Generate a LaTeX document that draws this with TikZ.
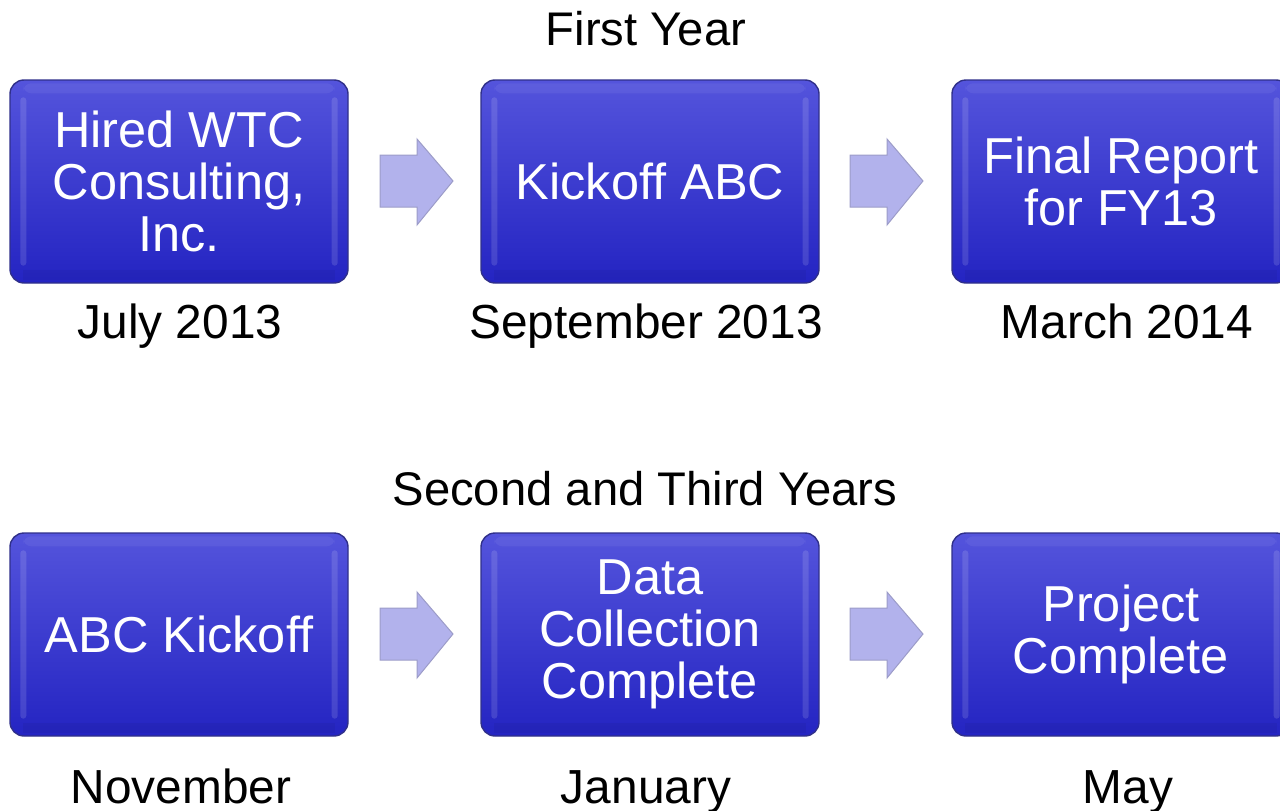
\documentclass[tikz,border=0pt]{standalone}
\usepackage{fontspec}
\setmainfont{Liberation Sans}
\usetikzlibrary{calc}
\definecolor{boxtop}{HTML}{5454DC}
\definecolor{boxmid}{HTML}{3232D2}
\definecolor{boxbot}{HTML}{2424C2}
\definecolor{boxedge}{HTML}{30308A}
\definecolor{arrowfill}{HTML}{B2B2EC}
\definecolor{arrowedge}{HTML}{9C9CC8}
\begin{document}
\begin{tikzpicture}[x=1pt,y=-1pt,
  tbox/.style={rounded corners=14pt, draw=boxedge, line width=1.4pt,
    top color=boxtop, middle color=boxmid, bottom color=boxbot,
    minimum width=338pt, minimum height=203pt, inner sep=0pt,
    text=white, align=center, font=\fontsize{50.5}{52}\selectfont},
  datelabel/.style={anchor=base, inner sep=0pt, font=\fontsize{47.8}{52}\selectfont},
  heading/.style={anchor=base, inner sep=0pt, font=\fontsize{47.2}{52}\selectfont},
  shine/.style={white, opacity=0.13},
  blockarrow/.style={fill=arrowfill, draw=arrowedge, line width=1pt, line join=miter}]
\useasboundingbox (0,0) rectangle (1280,811);
\clip (0,0) rectangle (1280,811);

% headings
\node[heading] (h1) at (646,45) {First Year};
\node[heading] (h2) at (645,505) {Second and Third Years};

% milestone boxes
\node[tbox] (b1) at (179,181.5) {Hired WTC\\Consulting,\\Inc.};
\node[tbox] (b2) at (650,181.5) {Kickoff ABC};
\node[tbox] (b3) at (1121,181.5) {Final Report\\for FY13};
\node[tbox] (b4) at (179,634.5) {ABC Kickoff};
\node[tbox] (b5) at (650,634.5) {Data\\Collection\\Complete};
\node[tbox] (b6) at (1121,634.5) {Project\\Complete};

% soft bevel highlights on the box sides
\foreach \b in {b1,b2,b3,b4,b5,b6}{
  \fill[shine, rounded corners=3pt] ($(\b.north west)+(11,18)$) rectangle ($(\b.south west)+(17,-18)$);
  \fill[shine, rounded corners=3pt] ($(\b.north east)+(-11,18)$) rectangle ($(\b.south east)+(-17,-18)$);
  \fill[white, opacity=0.06, rounded corners=8pt] ($(\b.north west)+(14,4)$) rectangle ($(\b.north east)+(-14,14)$);
  \fill[black, opacity=0.05] ($(\b.south west)+(14,-14)$) rectangle ($(\b.south east)+(-14,-4)$);
}

% block arrows between boxes
\foreach \x/\y in {380/181, 850/181, 380/634, 850/634}{
  \draw[blockarrow] (\x,\y-26) -- (\x+37,\y-26) -- (\x+37,\y-42) -- (\x+73,\y)
    -- (\x+37,\y+44) -- (\x+37,\y+26) -- (\x,\y+26) -- cycle;
}

% dates
\node[datelabel] (d1) at (180,338) {July 2013};
\node[datelabel] (d2) at (646,338) {September 2013};
\node[datelabel] (d3) at (1127,338) {March 2014};
\node[datelabel] (d4) at (181,803) {November};
\node[datelabel] (d5) at (646,803) {January};
\node[datelabel] (d6) at (1128,803) {May};
\end{tikzpicture}
\end{document}
